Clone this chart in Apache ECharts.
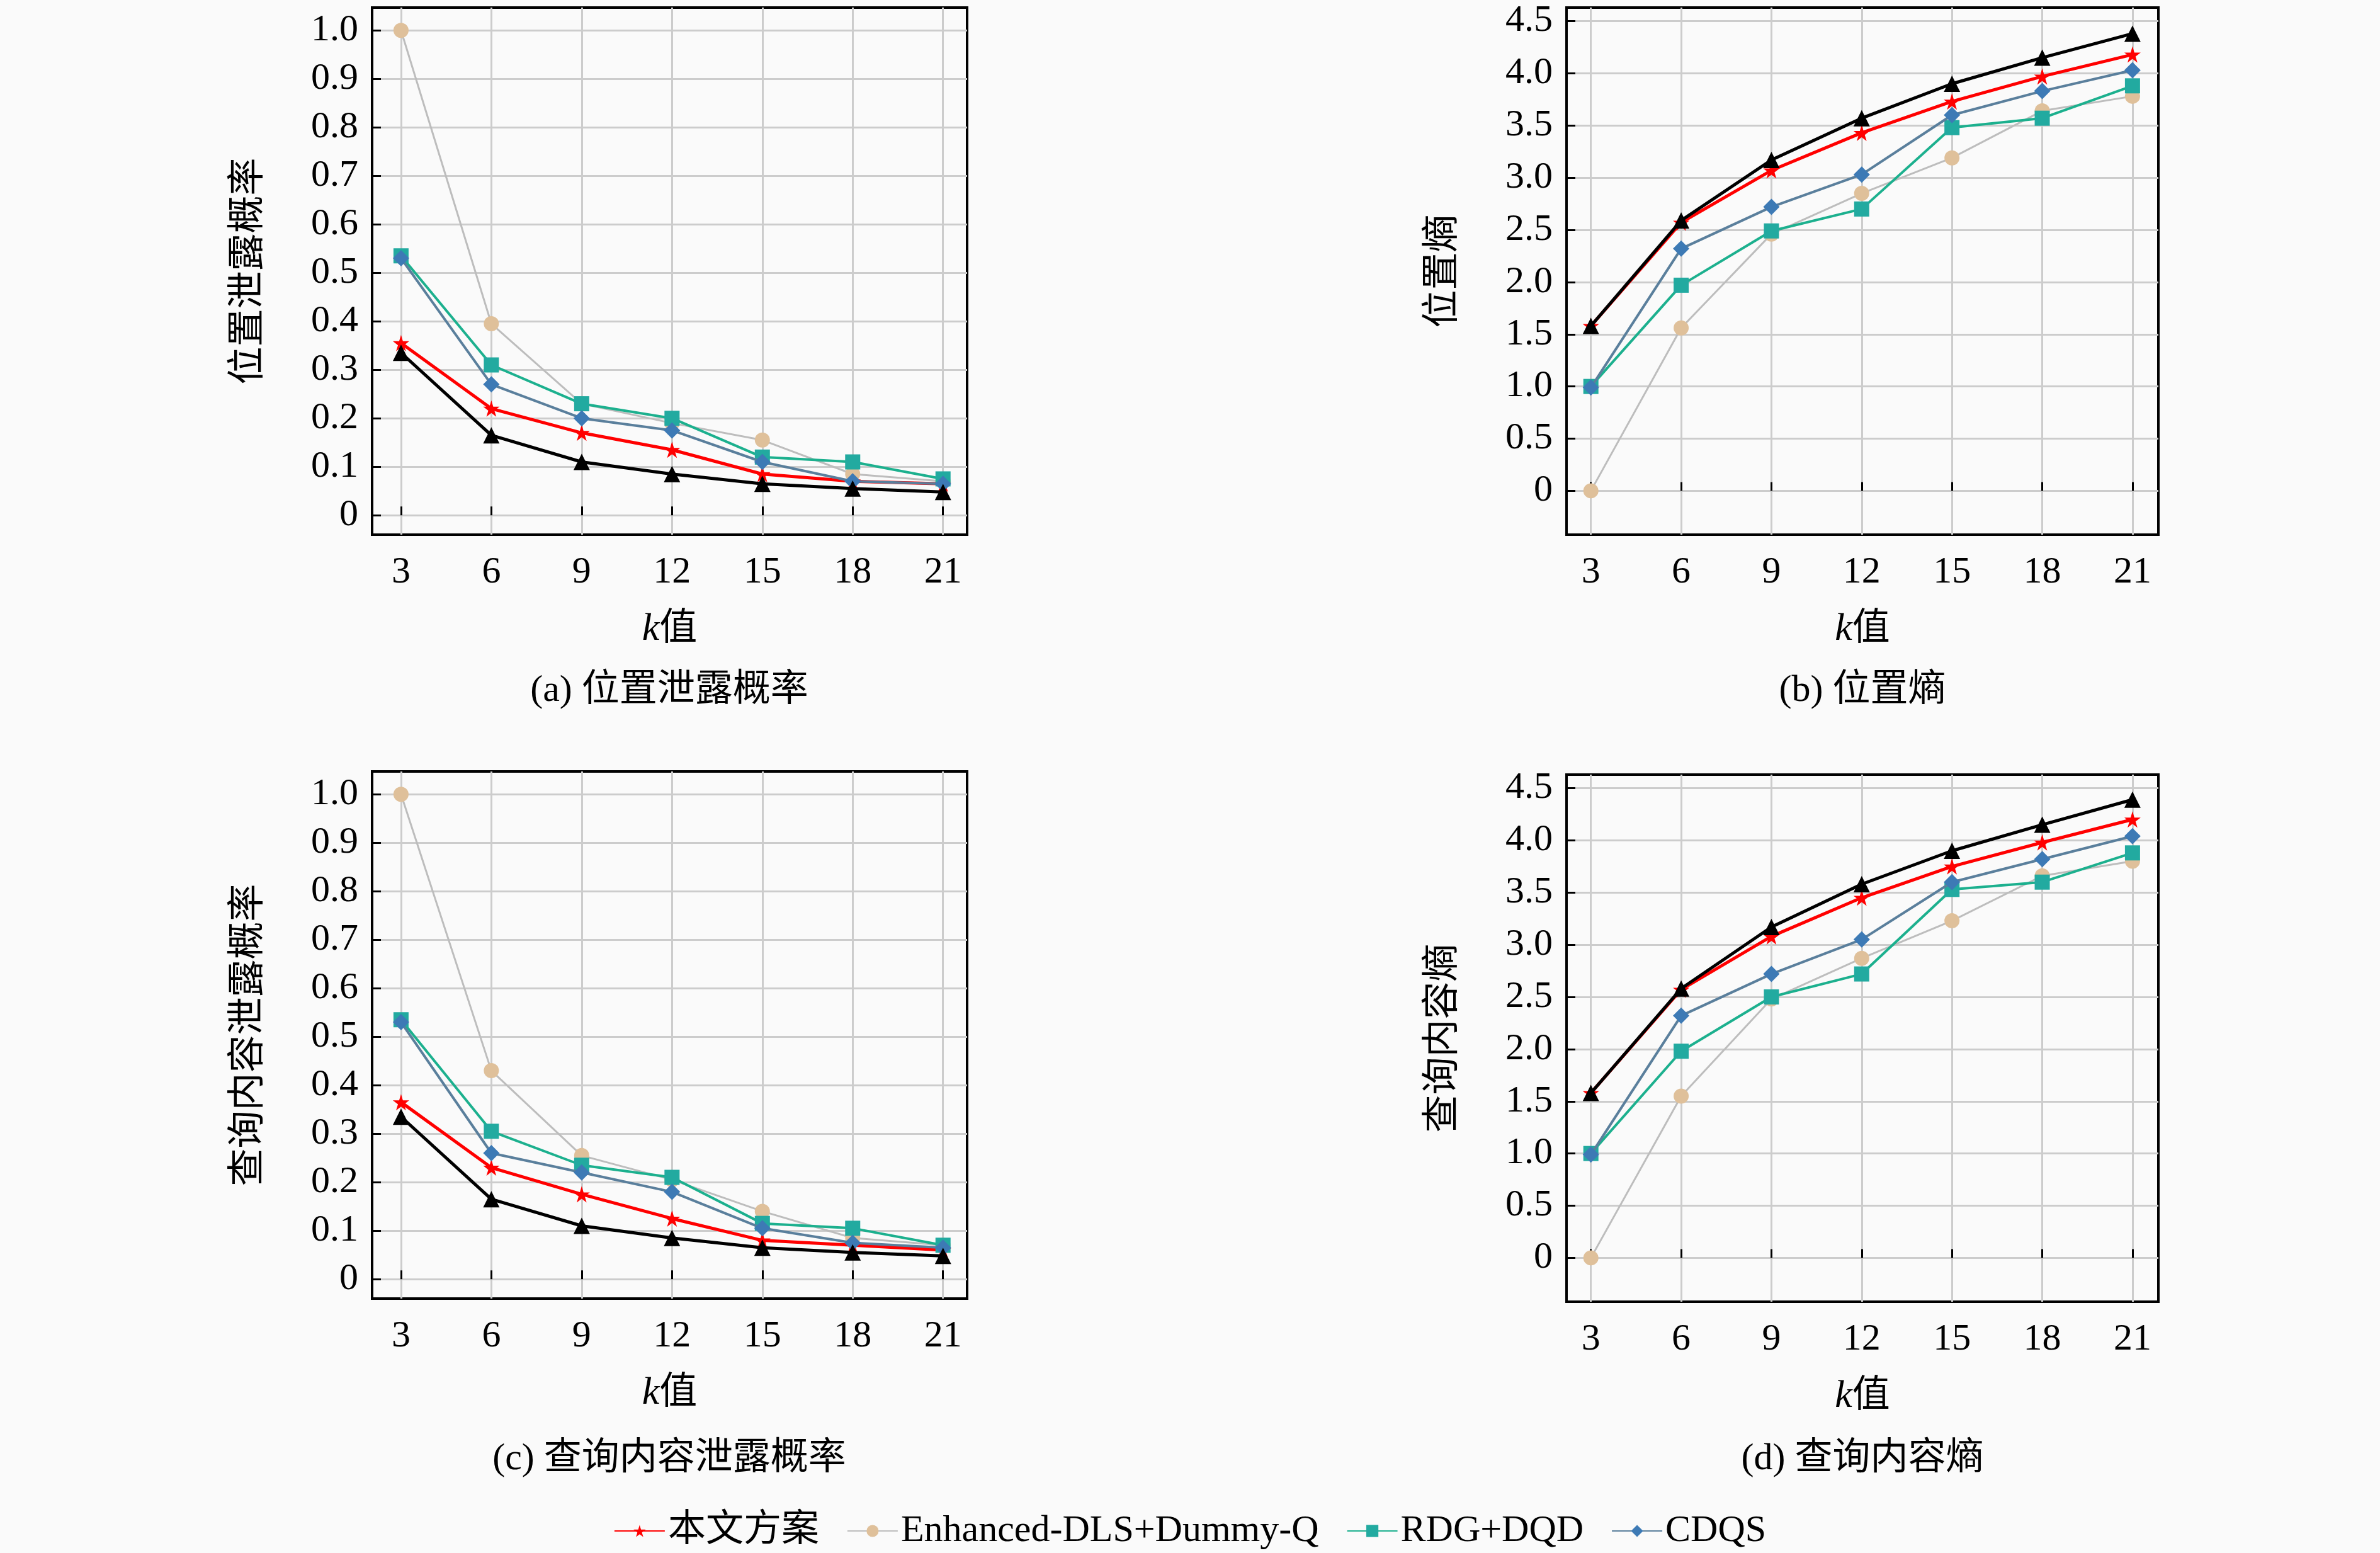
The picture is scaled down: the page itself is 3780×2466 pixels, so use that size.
<!DOCTYPE html>
<html><head><meta charset="utf-8">
<script src="https://cdn.jsdelivr.net/npm/echarts@6/dist/echarts.min.js"></script>
<style>html,body{margin:0;background:#fafafa}#c{width:3780px;height:2466px}</style>
</head><body><div id="c"></div>
<script>
// k 值
const kValues = [3, 6, 9, 12, 15, 18, 21];
const probTicks = [0, 0.1, 0.2, 0.3, 0.4, 0.5, 0.6, 0.7, 0.8, 0.9, 1.0];
const entTicks = [0, 0.5, 1.0, 1.5, 2.0, 2.5, 3.0, 3.5, 4.0, 4.5];

// (a) 位置泄露概率
const aOurs = [0.355, 0.22, 0.17, 0.135, 0.085, 0.07, 0.065];
const aEnh = [1.0, 0.395, 0.23, 0.19, 0.155, 0.085, 0.07];
const aRdg = [0.535, 0.31, 0.23, 0.2, 0.12, 0.11, 0.075];
const aCdqs = [0.53, 0.27, 0.2, 0.175, 0.11, 0.07, 0.065];
const aBlack = [0.335, 0.165, 0.11, 0.085, 0.065, 0.055, 0.048];
// (b) 位置熵
const bOurs = [1.58, 2.57, 3.07, 3.43, 3.73, 3.97, 4.18];
const bEnh = [0, 1.56, 2.46, 2.85, 3.19, 3.64, 3.78];
const bRdg = [1.0, 1.97, 2.49, 2.7, 3.48, 3.57, 3.88];
const bCdqs = [0.99, 2.32, 2.72, 3.03, 3.6, 3.83, 4.03];
const bBlack = [1.58, 2.59, 3.17, 3.57, 3.9, 4.15, 4.38];
// (c) 查询内容泄露概率
const cOurs = [0.365, 0.23, 0.175, 0.125, 0.08, 0.07, 0.06];
const cEnh = [1.0, 0.43, 0.255, 0.205, 0.14, 0.085, 0.07];
const cRdg = [0.535, 0.305, 0.235, 0.21, 0.115, 0.105, 0.07];
const cCdqs = [0.53, 0.26, 0.22, 0.18, 0.105, 0.075, 0.065];
const cBlack = [0.335, 0.165, 0.11, 0.085, 0.065, 0.055, 0.048];
// (d) 查询内容熵
const dOurs = [1.58, 2.57, 3.08, 3.45, 3.75, 3.98, 4.2];
const dEnh = [0, 1.55, 2.48, 2.87, 3.23, 3.66, 3.8];
const dRdg = [1.0, 1.98, 2.5, 2.72, 3.53, 3.6, 3.88];
const dCdqs = [0.99, 2.32, 2.72, 3.05, 3.6, 3.82, 4.04];
const dBlack = [1.58, 2.58, 3.17, 3.58, 3.9, 4.15, 4.39];

const serif = '"Liberation Serif", "DejaVu Serif", "Noto Sans CJK SC", serif';
const names = ['本文方案', 'Enhanced-DLS+Dummy-Q', 'RDG+DQD', 'CDQS'];

const panels = [
    {grid: {left: 591, top: 12, width: 945, height: 837}, y: [-0.04, 1.047], ticks: probTicks, yName: '位置泄露概率', data: [aOurs, aEnh, aRdg, aCdqs, aBlack], x: [2.04, 21.8], sub: '(a) 位置泄露概率', subPos: [1063, 1097]},
    {grid: {left: 2488, top: 12, width: 940, height: 837}, y: [-0.42, 4.63], ticks: entTicks, yName: '位置熵', data: [bOurs, bEnh, bRdg, bCdqs, bBlack], x: [2.19, 21.86], sub: '(b) 位置熵', subPos: [2958, 1097]},
    {grid: {left: 591, top: 1225, width: 945, height: 837}, y: [-0.04, 1.047], ticks: probTicks, yName: '查询内容泄露概率', data: [cOurs, cEnh, cRdg, cCdqs, cBlack], x: [2.04, 21.8], sub: '(c) 查询内容泄露概率', subPos: [1063, 2317]},
    {grid: {left: 2488, top: 1230, width: 940, height: 837}, y: [-0.42, 4.63], ticks: entTicks, yName: '查询内容熵', data: [dOurs, dEnh, dRdg, dCdqs, dBlack], x: [2.19, 21.86], sub: '(d) 查询内容熵', subPos: [2958, 2317]}
];

const styles = [
    {color: '#ff0000', line: '#ff0000', symbol: 'path://M50,0 L61,35 L98,35 L68,57 L79,91 L50,70 L21,91 L32,57 L2,35 L39,35 Z', size: 26, width: 5},
    {color: '#dfc09a', line: '#bdbdbd', symbol: 'circle', size: 24, width: 3},
    {color: '#22aaa0', line: '#1cb08e', symbol: 'rect', size: 24, width: 4},
    {color: '#3d7ab5', line: '#5a7f9c', symbol: 'diamond', size: 26, width: 4},
    {color: '#000000', line: '#000000', symbol: 'triangle', size: 26, width: 5}
];

const fmtTick = v => v === 0 ? '0' : v.toFixed(1);
const option = {
    backgroundColor: '#fafafa',
    animation: false,
    grid: [], xAxis: [], yAxis: [], series: [], graphic: [],
    legend: {
        data: names,
        left: 'center', top: 2396, itemWidth: 80, itemHeight: 24, itemGap: 44,
        textStyle: {fontFamily: serif, fontSize: 60, color: '#000'}
    }
};

panels.forEach((p, gi) => {
    option.grid.push(Object.assign({show: true, borderColor: '#000', borderWidth: 4, backgroundColor: '#fafafa'}, p.grid));
    option.xAxis.push({
        type: 'value', gridIndex: gi, min: p.x[0], max: p.x[1],
        axisLine: {show: false},
        axisTick: {inside: true, length: 14, customValues: kValues, lineStyle: {color: '#000', width: 3}},
        axisLabel: {customValues: kValues, margin: 30, fontFamily: serif, fontSize: 60, color: '#000'},
        splitLine: {show: true, lineStyle: {color: '#cccccc', width: 3}},
        name: '{k|k}{z|值}', nameLocation: 'middle', nameGap: 120,
        nameTextStyle: {color: '#000', rich: {k: {fontFamily: serif, fontStyle: 'italic', fontSize: 62, color: '#000'}, z: {fontFamily: serif, fontSize: 60, color: '#000'}}}
    });
    option.yAxis.push({
        type: 'value', gridIndex: gi, min: p.y[0], max: p.y[1],
        axisLine: {show: false},
        axisTick: {inside: true, length: 14, customValues: p.ticks, lineStyle: {color: '#000', width: 3}},
        axisLabel: {customValues: p.ticks, margin: 22, formatter: fmtTick, fontFamily: serif, fontSize: 60, color: '#000'},
        splitLine: {show: true, lineStyle: {color: '#cccccc', width: 3}},
        name: p.yName, nameLocation: 'middle', nameGap: 165, nameRotate: 90,
        nameTextStyle: {fontFamily: serif, fontSize: 60, color: '#000'}
    });
    p.data.forEach((vals, si) => {
        const s = styles[si];
        option.series.push({
            name: si < 4 ? names[si] : 'other',
            type: 'line', xAxisIndex: gi, yAxisIndex: gi,
            data: kValues.map((k, i) => [k, vals[i]]),
            symbol: s.symbol, symbolSize: s.size, showAllSymbol: true,
            itemStyle: {color: s.color},
            lineStyle: {color: s.line, width: s.width},
            z: si === 1 ? 2 : 3 + si
        });
    });
    option.graphic.push({
        type: 'text', x: p.subPos[0], y: p.subPos[1],
        style: {text: p.sub, font: '60px ' + serif, fill: '#000', textAlign: 'center', textVerticalAlign: 'middle'}
    });
});

echarts.init(document.getElementById('c')).setOption(option);
</script></body></html>
